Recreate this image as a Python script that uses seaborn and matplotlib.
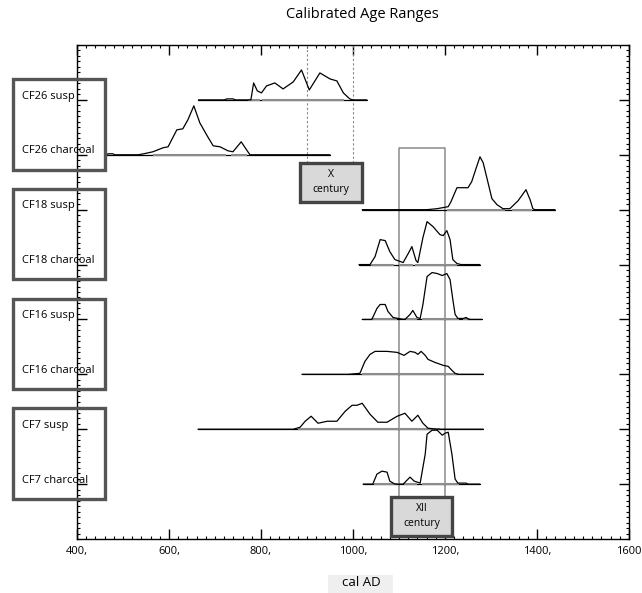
import matplotlib
matplotlib.use("Agg")
import matplotlib.pyplot as plt
import seaborn as sns
import pandas as pd
import numpy as np
from matplotlib.patches import Rectangle
from matplotlib.transforms import blended_transform_factory
from matplotlib.ticker import MultipleLocator

# ---------------- data ----------------
samples = ["CF26 susp", "CF26 charcoal", "CF18 susp", "CF18 charcoal",
           "CF16 susp", "CF16 charcoal", "CF7 susp", "CF7 charcoal"]

# baseline extents (cal AD)
spans = [(664, 1030), (463, 950), (1020, 1439), (1013, 1276),
         (1020, 1280), (889, 1283), (663, 1283), (1022, 1276)]

# probability ranges drawn under each curve (cal AD)
ranges = [
    [(771, 797), (803, 980)],
    [(565, 725), (734, 770)],
    [(1205, 1330), (1345, 1390)],
    [(1040, 1090), (1100, 1130), (1135, 1225)],
    [(1040, 1095), (1110, 1140), (1150, 1230), (1240, 1255)],
    [(1020, 1225)],
    [(880, 1190)],
    [(1045, 1095), (1110, 1140), (1150, 1230)],
]

cf26_susp_year = [664, 720, 726, 739, 745, 778, 784, 792, 801, 812, 830, 848, 870, 888, 905, 928, 950, 965, 979, 993, 1000, 1030]
cf26_susp_prob = [0, 0, 1, 1, 0, 0, 17, 9, 7, 14, 17, 11, 18, 30, 10, 27, 21, 19, 7, 1, 0, 0]

cf26_char_year = [463, 468, 478, 482, 533, 545, 565, 587, 598, 617, 630, 641, 654, 667, 683, 696, 711, 728, 739, 757, 770, 776, 950]
cf26_char_prob = [0, 1, 1, 0, 0, 1, 3, 7, 8, 25, 26, 35, 49, 32, 19, 9, 8, 4, 3, 13, 4, 0, 0]

cf18_susp_year = [1020, 1161, 1183, 1207, 1213, 1226, 1250, 1258, 1268, 1276, 1283, 1292, 1302, 1313, 1326, 1341, 1359, 1376, 1385, 1391, 1395, 1439]
cf18_susp_prob = [0, 0, 1, 3, 8, 22, 22, 28, 42, 53, 47, 30, 11, 5, 1, 1, 9, 20, 10, 1, 0, 0]

cf18_char_year = [1013, 1037, 1048, 1059, 1070, 1080, 1091, 1109, 1120, 1128, 1137, 1141, 1152, 1161, 1174, 1189, 1196, 1204, 1211, 1217, 1226, 1235, 1276]
cf18_char_prob = [0, 0, 8, 25, 24, 13, 5, 2, 11, 18, 4, 2, 27, 43, 38, 30, 29, 34, 25, 5, 1, 0, 0]

cf16_susp_year = [1020, 1041, 1052, 1059, 1070, 1076, 1087, 1098, 1113, 1124, 1130, 1139, 1146, 1152, 1161, 1172, 1183, 1194, 1204, 1211, 1217, 1222, 1228, 1240, 1246, 1252, 1280]
cf16_susp_prob = [0, 0, 11, 15, 15, 8, 2, 1, 0, 5, 9, 2, 1, 15, 43, 47, 46, 44, 46, 40, 20, 5, 1, 1, 2, 0, 0]

cf16_char_year = [889, 989, 1015, 1026, 1037, 1048, 1074, 1096, 1111, 1124, 1135, 1141, 1148, 1157, 1163, 1178, 1196, 1207, 1215, 1222, 1230, 1283]
cf16_char_prob = [0, 0, 1, 13, 20, 23, 23, 22, 19, 23, 22, 20, 23, 19, 15, 12, 9, 8, 4, 1, 0, 0]

cf7_susp_year = [663, 870, 885, 896, 909, 924, 944, 965, 983, 998, 1009, 1020, 1037, 1054, 1074, 1096, 1113, 1128, 1141, 1152, 1163, 1183, 1283]
cf7_susp_prob = [0, 0, 2, 8, 13, 6, 8, 8, 18, 24, 24, 26, 15, 7, 7, 13, 16, 8, 14, 6, 1, 0, 0]

cf7_char_year = [1022, 1043, 1052, 1063, 1074, 1080, 1091, 1109, 1124, 1133, 1146, 1157, 1161, 1172, 1183, 1194, 1200, 1207, 1215, 1222, 1228, 1246, 1250, 1276]
cf7_char_prob = [0, 0, 10, 13, 12, 3, 0, 0, 7, 3, 1, 30, 50, 54, 54, 49, 51, 52, 30, 5, 1, 1, 0, 0]

curve_years = [cf26_susp_year, cf26_char_year, cf18_susp_year, cf18_char_year,
               cf16_susp_year, cf16_char_year, cf7_susp_year, cf7_char_year]
curve_probs = [cf26_susp_prob, cf26_char_prob, cf18_susp_prob, cf18_char_prob,
               cf16_susp_prob, cf16_char_prob, cf7_susp_prob, cf7_char_prob]

groups = [(1, 2), (3, 4), (5, 6), (7, 8)]

x_ticks = [400, 600, 800, 1000, 1200, 1400, 1600]
x_ticklabels = ["400,", "600,", "800,", "1000,", "1200,", "1400,", "1600"]

x_century = (900, 1000)
xii_century = (1100, 1200)

# ---------------- plot ----------------
sns.set_style("white")
plt.rcParams['font.family'] = ['Open Sans', 'DejaVu Sans']
plt.rcParams['text.color'] = 'black'
plt.rcParams['xtick.color'] = 'black'
plt.rcParams['ytick.color'] = 'black'

W, H = 642, 593
fig = plt.figure(figsize=(W / 100, H / 100), dpi=100)
ax = fig.add_axes([77 / W, 54 / H, 552 / W, 494 / H])

SCALE = 1 / 55.0
for i, name in enumerate(samples):
    pos = i + 1
    s0, s1 = spans[i]
    ax.plot([s0, s1], [pos, pos], color='black', lw=0.9, zorder=2)
    for r0, r1 in ranges[i]:
        ax.plot([r0, r1], [pos, pos], color='#8c8c8c', lw=1.5,
                solid_capstyle='butt', zorder=3)
    df = pd.DataFrame({"year": curve_years[i],
                       "y": pos - np.array(curve_probs[i]) * SCALE})
    sns.lineplot(data=df, x="year", y="y", ax=ax, color='black', lw=0.9,
                 estimator=None, sort=False, zorder=4)

# X century markers
for xv in x_century:
    ax.plot([xv, xv], [0, 2.15], color='#888888', lw=0.8, ls=(0, (2, 2)), zorder=1)
ax.add_patch(Rectangle((885, 2.15), 135, 0.71, fc='#d9d9d9', ec='#444444',
                       lw=2.4, zorder=6, clip_on=False))
ax.text(952, 2.5, "X\ncentury", ha='center', va='center', fontsize=7.5,
        linespacing=1.5, zorder=7)

# XII century markers
ax.plot([xii_century[0], xii_century[0], xii_century[1], xii_century[1]],
        [8.23, 1.88, 1.88, 8.23], color='#8a8a8a', lw=1.1, zorder=1)
ax.add_patch(Rectangle((1083, 8.23), 132, 0.71, fc='#d9d9d9', ec='#444444',
                       lw=2.4, zorder=6, clip_on=False))
ax.text(1149, 8.58, "XII\ncentury", ha='center', va='center', fontsize=7.5,
        linespacing=1.5, zorder=7)

# axes styling
ax.set_xlim(400, 1600)
ax.set_ylim(9, 0)
ax.set_xticks(x_ticks)
ax.set_xticklabels(x_ticklabels)
ax.xaxis.set_minor_locator(MultipleLocator(20))
ax.set_yticks(range(1, 9))
ax.set_yticklabels([])
ax.yaxis.set_minor_locator(MultipleLocator(0.1))
ax.tick_params(which='both', direction='in', top=True, right=True,
               left=True, bottom=True, color='black')
ax.tick_params(which='major', length=7, width=1, labelsize=8, pad=5)
ax.tick_params(which='minor', length=2.5, width=0.8)
for sp in ax.spines.values():
    sp.set_color('black')
    sp.set_linewidth(1)
ax.set_xlabel("")
ax.set_ylabel("")

# sample labels and group boxes
trans = blended_transform_factory(fig.transFigure, ax.transData)
for i, name in enumerate(samples):
    ax.text(22 / W, i + 1 - 0.07, name, transform=trans, ha='left',
            va='center', fontsize=8, clip_on=False, zorder=8)
for top, bot in groups:
    fig.add_artist(Rectangle((13 / W, top - 0.38), 92 / W, (bot - top) + 0.65,
                             transform=trans, fill=False, ec='#555555',
                             lw=2.4))

# title and x label
fig.text(362 / W, 1 - 15 / H, "Calibrated Age Ranges", ha='center',
         va='center', fontsize=10.5)
fig.add_artist(Rectangle((328 / W, 0), 65 / W, 18 / H,
                         transform=fig.transFigure, fc='#efefef', ec='none',
                         zorder=0))
fig.text(361 / W, 1 - 583 / H, "cal AD", ha='center', va='center',
         fontsize=9.5, zorder=2)

fig.savefig("out.png", dpi=100)
